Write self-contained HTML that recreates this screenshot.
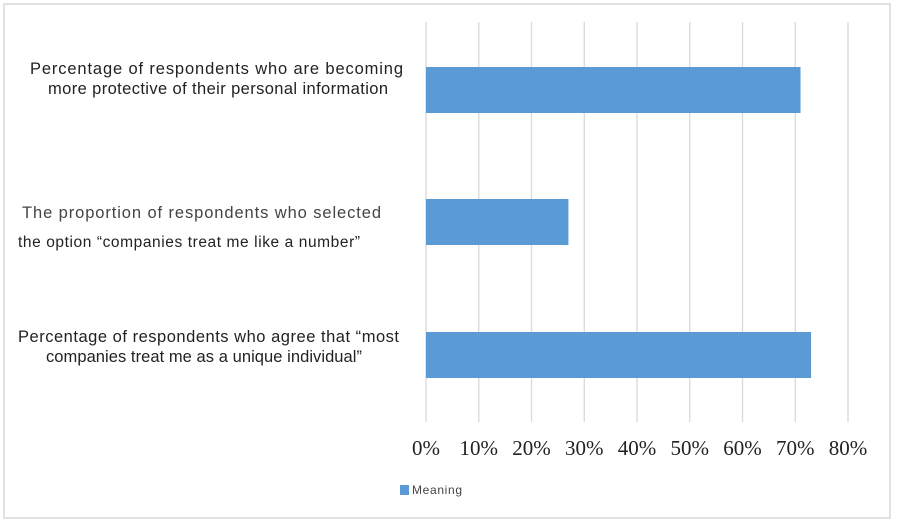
<!DOCTYPE html>
<html><head><meta charset="utf-8"><style>
body{margin:0;background:#fff;}
svg{display:block;font-family:"Liberation Sans",sans-serif;}
</style></head><body>
<svg width="899" height="528">
<rect x="4" y="4" width="886" height="514" fill="#fff" stroke="#d9d9d9" stroke-width="1.5"/>
<g id="grid"></g><g id="bars"></g><g id="ticks"></g>
<g fill="#222" font-size="16.5" lengthAdjust="spacingAndGlyphs">
<text x="30" y="74" textLength="373">Percentage of respondents who are becoming</text>
<text x="48" y="94" textLength="340">more protective of their personal information</text>
<text x="22" y="218" textLength="359" fill="#444">The proportion of respondents who selected</text>
<text x="18" y="247" textLength="342" font-size="15.5">the option “companies treat me like a number”</text>
<text x="18" y="342" textLength="381">Percentage of respondents who agree that “most</text>
<text x="46" y="362" textLength="316">companies treat me as a unique individual”</text>
</g>
<rect x="400" y="485" width="9" height="10" fill="#5b9bd5"/>
<text x="412" y="494" font-size="12" fill="#444" textLength="50">Meaning</text>
</svg>
<script>
const categories=["protective","number","unique"];
const values=[71,27,73];
const tickValues=[0,10,20,30,40,50,60,70,80];
const tickLabels=["0%","10%","20%","30%","40%","50%","60%","70%","80%"];
const NS="http://www.w3.org/2000/svg";
const x=v=>426+v*(848-426)/80;
const barY=[67,199,332];
const grid=document.getElementById('grid'),bars=document.getElementById('bars'),ticks=document.getElementById('ticks');
tickValues.forEach((v,i)=>{
 const l=document.createElementNS(NS,'line');
 l.setAttribute('x1',x(v));l.setAttribute('x2',x(v));l.setAttribute('y1',22);l.setAttribute('y2',422);
 l.setAttribute('stroke','#d9d9d9');l.setAttribute('stroke-width','1.3');
 
 
 grid.appendChild(l);
 const t=document.createElementNS(NS,'text');
 t.setAttribute('x',x(v));t.setAttribute('y',455);t.setAttribute('text-anchor','middle');
 t.setAttribute('font-family','"Liberation Serif",serif');t.setAttribute('font-size','21');t.setAttribute('fill','#222');
 t.textContent=tickLabels[i];
 
 
 ticks.appendChild(t);
});
categories.forEach((c,i)=>{
 const r=document.createElementNS(NS,'rect');
 r.setAttribute('x',x(0));r.setAttribute('y',barY[i]);r.setAttribute('width',x(values[i])-x(0));r.setAttribute('height',46);
 r.setAttribute('fill','#5b9bd5');
 
 
 bars.appendChild(r);
});
</script>
</body></html>
